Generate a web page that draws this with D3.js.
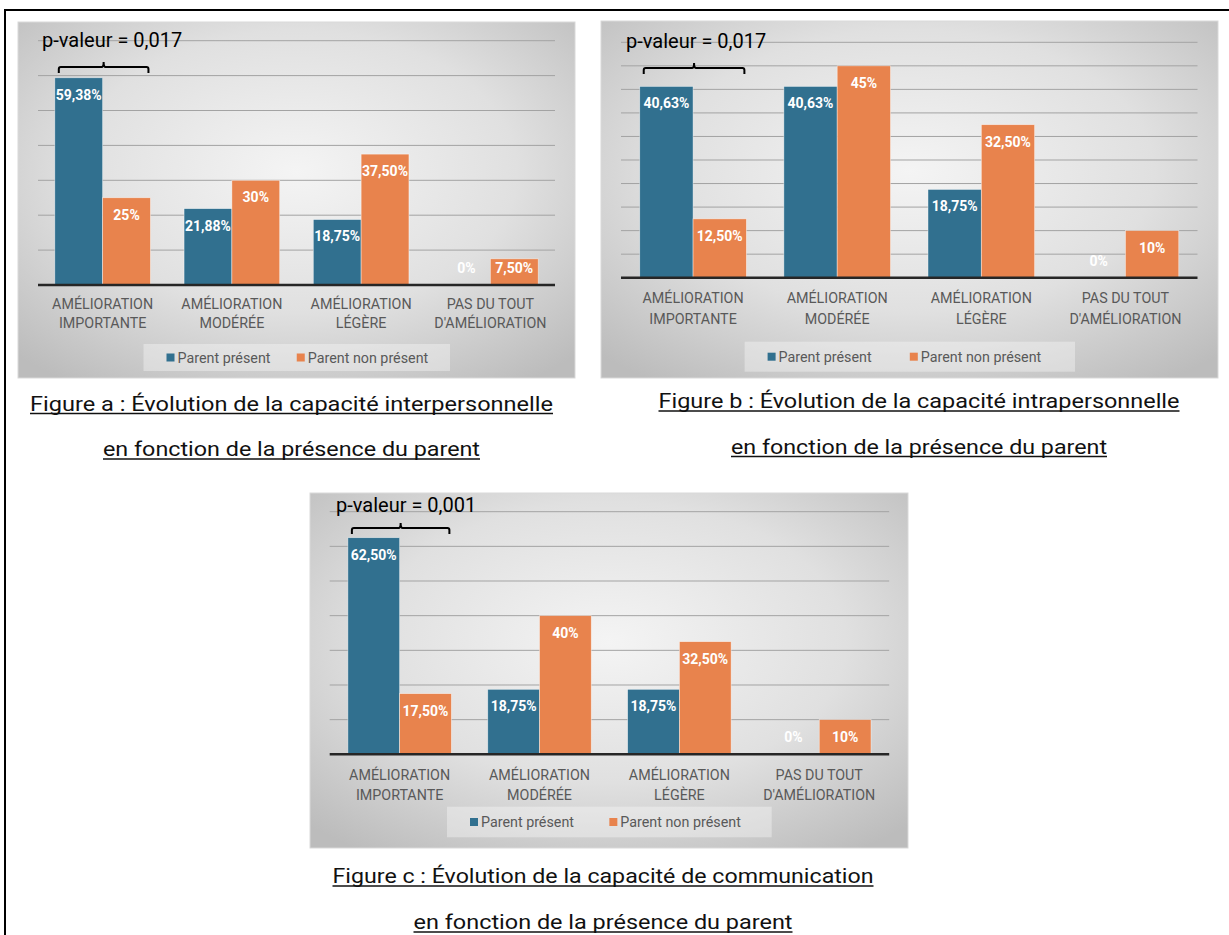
<!DOCTYPE html>
<html>
<head>
<meta charset="utf-8">
<script src="https://cdn.jsdelivr.net/npm/d3@7"></script>
<style>
  body { margin: 0; background: #fff; }
  svg { display: block; }
</style>
</head>
<body>
<div id="chart"></div>
<script>
// categories and series
let categories = [
  ["AMÉLIORATION", "IMPORTANTE"],
  ["AMÉLIORATION", "MODÉRÉE"],
  ["AMÉLIORATION", "LÉGÈRE"],
  ["PAS DU TOUT", "D'AMÉLIORATION"]
]
let seriesNames = ["Parent présent", "Parent non présent"]
let colors = ["#31708f", "#e8834d"]

// values (%)
let aPresent = [59.38, 21.88, 18.75, 0]
let aAbsent = [25, 30, 37.5, 7.5]
let bPresent = [40.63, 40.63, 18.75, 0]
let bAbsent = [12.5, 45, 32.5, 10]
let cPresent = [62.5, 18.75, 18.75, 0]
let cAbsent = [17.5, 40, 32.5, 10]

let pValues = ["0,017", "0,017", "0,001"]
let yMaxes = [70, 50, 70]
let yStepsPct = [10, 5, 10]

let captions = [
  ["Figure a : Évolution de la capacité interpersonnelle", "en fonction de la présence du parent"],
  ["Figure b : Évolution de la capacité intrapersonnelle", "en fonction de la présence du parent"],
  ["Figure c : Évolution de la capacité de communication", "en fonction de la présence du parent"]
]

let W = 1229, H = 935

let svg = d3.select("#chart")
  .append("svg")
  .attr("width", W)
  .attr("height", H)

// background gradient of the excel charts
let defs = svg.append("defs")
let grad = defs.append("radialGradient")
  .attr("id", "bg")
  .attr("cx", "50%").attr("cy", "42%").attr("r", "72%")
grad.append("stop").attr("offset", "0%").attr("stop-color", "#f4f4f4")
grad.append("stop").attr("offset", "55%").attr("stop-color", "#e0e0e0")
grad.append("stop").attr("offset", "100%").attr("stop-color", "#bcbcbc")

// outer frame
svg.append("rect")
  .attr("x", 5).attr("y", 10)
  .attr("width", 1240).attr("height", 940)
  .attr("fill", "none")
  .attr("stroke", "#000")
  .attr("stroke-width", 2)

function fmt(v) {
  if (Number.isInteger(v)) return v + "%"
  return v.toFixed(2).replace(".", ",") + "%"
}

let panels = [
  { present: aPresent, absent: aAbsent, box: [18, 22, 557, 356], plot: [38, 555, 285], cat: [304, 323],
    legend: [143.5, 344, 306.5, 27], pval: [42, 47], bracketY: 67 },
  { present: bPresent, absent: bAbsent, box: [601, 21, 617, 357], plot: [621, 1197.5, 277.7], cat: [298, 319],
    legend: [744.6, 341.7, 330.4, 30], pval: [626, 48], bracketY: 68 },
  { present: cPresent, absent: cAbsent, box: [310, 493, 598, 355], plot: [329.7, 889.2, 754.3], cat: [775, 795],
    legend: [447, 806.7, 324.7, 30.6], pval: [336, 512], bracketY: 528 }
]
// top of value axis for each panel (pixel of yMax)
let plotTops = [40.7, 42.3, 511.7]

panels.forEach(function (p, i) {
  let g = svg.append("g")

  g.append("rect")
    .attr("x", p.box[0]).attr("y", p.box[1])
    .attr("width", p.box[2]).attr("height", p.box[3])
    .attr("fill", "url(#bg)")
    .attr("stroke", "#d9d9d9")

  let x0 = d3.scaleBand()
    .domain(d3.range(categories.length))
    .range([p.plot[0], p.plot[1]])
    .paddingInner(0.26)
    .paddingOuter(0.13)
  let x1 = d3.scaleBand()
    .domain([0, 1])
    .range([0, x0.bandwidth()])
  let y = d3.scaleLinear()
    .domain([0, yMaxes[i]])
    .range([p.plot[2], plotTops[i]])

  // gridlines
  let ticks = d3.range(yStepsPct[i], yMaxes[i] + 0.01, yStepsPct[i])
  g.append("g")
    .selectAll("line")
    .data(ticks)
    .enter()
    .append("line")
      .attr("x1", p.plot[0]).attr("x2", p.plot[1])
      .attr("y1", d => y(d)).attr("y2", d => y(d))
      .attr("stroke", "#a3a3a3")
      .attr("stroke-width", 1)

  let rows = categories.map((c, k) => ({ k: k, vals: [p.present[k], p.absent[k]] }))

  let grp = g.append("g")
    .selectAll("g")
    .data(rows)
    .enter()
    .append("g")
    .attr("transform", d => "translate(" + x0(d.k) + ",0)")

  grp.selectAll("rect")
    .data(d => d.vals.map((v, s) => ({ v: v, s: s })))
    .enter()
    .append("rect")
      .attr("x", d => x1(d.s))
      .attr("y", d => y(d.v))
      .attr("width", x1.bandwidth())
      .attr("height", d => y(0) - y(d.v))
      .attr("fill", d => colors[d.s])
      .attr("stroke", "#ffffff")
      .attr("stroke-opacity", 0.6)
      .attr("stroke-width", 0.7)

  grp.selectAll("text")
    .data(d => d.vals.map((v, s) => ({ v: v, s: s })))
    .enter()
    .append("text")
      .attr("x", d => x1(d.s) + x1.bandwidth() / 2)
      .attr("y", d => Math.min(y(d.v) + 17, y(0) - 17))
      .attr("dy", "0.35em")
      .attr("text-anchor", "middle")
      .attr("fill", "#fff")
      .attr("font-family", "Roboto, sans-serif")
      .attr("font-weight", "bold")
      .attr("font-size", 14)
      .text(d => fmt(d.v))

  // baseline
  g.append("line")
    .attr("x1", p.plot[0]).attr("x2", p.plot[1])
    .attr("y1", y(0)).attr("y2", y(0))
    .attr("stroke", "#262626")
    .attr("stroke-width", 2.5)

  // category labels
  let cat = g.append("g")
    .selectAll("text")
    .data(categories)
    .enter()
    .append("text")
      .attr("text-anchor", "middle")
      .attr("fill", "#595959")
      .attr("font-family", "Roboto, sans-serif")
      .attr("font-size", 14.3)
  cat.each(function (c, k) {
    let t = d3.select(this)
    c.forEach(function (line, li) {
      t.append("tspan")
        .attr("x", x0(k) + x0.bandwidth() / 2)
        .attr("y", p.cat[li])
        .attr("dy", "0.35em")
        .text(line)
    })
  })

  // legend
  let lg = p.legend
  g.append("rect")
    .attr("x", lg[0]).attr("y", lg[1])
    .attr("width", lg[2]).attr("height", lg[3])
    .attr("fill", "#ffffff")
    .attr("fill-opacity", 0.35)
  let ly = lg[1] + lg[3] / 2
  let lx = [lg[0] + 23, lg[0] + lg[2] * 0.5 + 0]
  seriesNames.forEach(function (name, s) {
    g.append("rect")
      .attr("x", lx[s]).attr("y", ly - 4)
      .attr("width", 8).attr("height", 8)
      .attr("fill", colors[s])
    g.append("text")
      .attr("x", lx[s] + 11).attr("y", ly)
      .attr("dy", "0.35em")
      .attr("fill", "#595959")
      .attr("font-family", "Roboto, sans-serif")
      .attr("font-size", 14.3)
      .text(name)
  })

  // p-value and bracket over the first group
  g.append("text")
    .attr("x", p.pval[0]).attr("y", p.pval[1])
    .attr("fill", "#000")
    .attr("font-family", "Roboto, sans-serif")
    .attr("font-size", 20)
    .text("p-valeur = " + pValues[i])

  let bx0 = x0(0) + 4, bx1 = x0(0) + x0.bandwidth() - 2, bm = (bx0 + bx1) / 2, by = p.bracketY
  g.append("path")
    .attr("d", "M" + bx0 + "," + (by + 6) + " L" + bx0 + "," + (by + 2) +
      " Q" + bx0 + "," + by + " " + (bx0 + 2) + "," + by +
      " L" + (bm - 2) + "," + by + " Q" + bm + "," + by + " " + bm + "," + (by - 5) +
      " Q" + bm + "," + by + " " + (bm + 2) + "," + by +
      " L" + (bx1 - 2) + "," + by + " Q" + bx1 + "," + by + " " + bx1 + "," + (by + 2) +
      " L" + bx1 + "," + (by + 6))
    .attr("fill", "none")
    .attr("stroke", "#000")
    .attr("stroke-width", 2)
})

// captions, underlined
let capPos = [
  { cx: 291.5, y: [410.5, 456], w: [523, 377] },
  { cx: 919, y: [408, 453.5], w: [521, 376] },
  { cx: 603, y: [883, 929], w: [541, 379] }
]
captions.forEach(function (c, i) {
  c.forEach(function (line, li) {
    let pos = capPos[i]
    svg.append("text")
      .attr("x", pos.cx).attr("y", pos.y[li])
      .attr("text-anchor", "middle")
      .attr("font-family", "Roboto, sans-serif")
      .attr("font-size", 20)
      .attr("fill", "#111")
      .attr("textLength", pos.w[li])
      .attr("lengthAdjust", "spacingAndGlyphs")
      .text(line)
    svg.append("line")
      .attr("x1", pos.cx - pos.w[li] / 2).attr("x2", pos.cx + pos.w[li] / 2)
      .attr("y1", pos.y[li] + 3).attr("y2", pos.y[li] + 3)
      .attr("stroke", "#111")
      .attr("stroke-width", 1.3)
  })
})
</script>
</body>
</html>
